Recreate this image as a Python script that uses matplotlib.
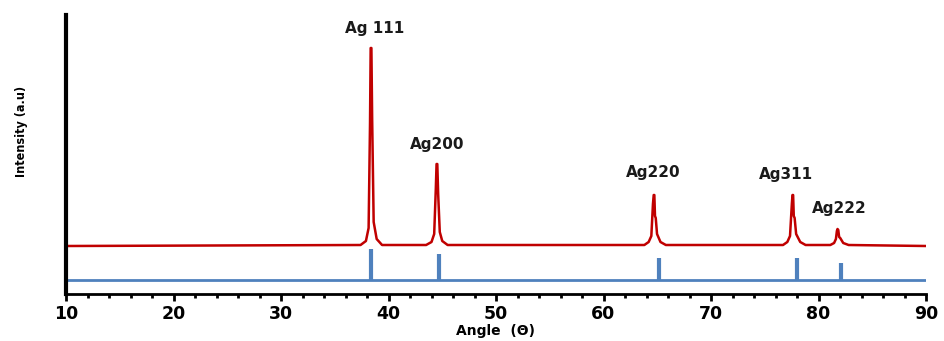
import matplotlib
matplotlib.use("Agg")
import matplotlib.pyplot as plt
from matplotlib.ticker import MultipleLocator

red_x = [10.0,
         37.4, 37.9, 38.15, 38.28, 38.34, 38.41, 38.48, 38.62, 38.9, 39.4,
         43.5, 44.0, 44.25, 44.4, 44.47, 44.54, 44.62, 44.77, 45.0, 45.5,
         63.8, 64.2, 64.45, 64.6, 64.67, 64.73, 64.79, 64.86, 64.98, 65.3, 65.8,
         76.7, 77.1, 77.35, 77.52, 77.58, 77.64, 77.7, 77.78, 77.92, 78.3, 78.8,
         81.1, 81.45, 81.62, 81.71, 81.77, 81.84, 81.92, 82.02, 82.3, 82.8,
         90.0]
red_y = [48,
         49, 53, 66, 170, 246, 246, 175, 72, 55, 49,
         49, 52, 60, 105, 130, 130, 100, 62, 53, 49,
         49, 52, 58, 90, 99, 99, 78, 76, 60, 52, 49,
         49, 52, 58, 90, 99, 99, 78, 76, 60, 52, 49,
         49, 51, 55, 63, 65, 64, 57, 56, 51, 49,
         48]

# Reference pattern (stick positions and heights)
ref_base = 14
ref_pos = [38.37, 44.73, 65.18, 78.03, 82.07]
ref_top = [45, 40, 36, 36, 31]

peak_labels = ["Ag 111", "Ag200", "Ag220", "Ag311", "Ag222"]
label_x = [38.7, 44.5, 64.6, 76.95, 81.9]
label_y = [266, 150, 121, 120, 85]

xticks = [10, 20, 30, 40, 50, 60, 70, 80, 90]

fig = plt.figure(figsize=(9.44, 3.41), dpi=100)
ax = fig.add_axes([66/944, 1-294/341, (926-66)/944, (294-15)/341])

red = "#C00000"
blue = "#4F81BD"

ax.plot(red_x, red_y, color=red, lw=1.8, solid_joinstyle="round")
ax.plot([10, 90.3], [ref_base, ref_base], color=blue, lw=2.0)
ax.vlines(ref_pos, ref_base, ref_top, color=blue, lw=3.0)

for t, x, y in zip(peak_labels, label_x, label_y):
    ax.text(x, y, t, ha="center", va="center", fontsize=11, fontweight="bold",
            family="DejaVu Sans", color="#1a1a1a")

ax.set_xlim(10, 90)
ax.set_ylim(0, 279)
ax.set_xticks(xticks)
ax.set_xticklabels([str(v) for v in xticks], fontsize=12.5, fontweight="bold",
                   family="DejaVu Sans")
ax.xaxis.set_minor_locator(MultipleLocator(2))
ax.tick_params(axis="x", which="major", direction="out", length=5, width=2, pad=3)
ax.tick_params(axis="x", which="minor", direction="out", length=3, width=2)
ax.set_yticks([])
for s in ["top", "right"]:
    ax.spines[s].set_visible(False)
ax.spines["bottom"].set_linewidth(2)
ax.spines["left"].set_linewidth(3)

fig.text(495/944, 1-331/341, "Angle  (\u0398)", ha="center", va="center",
         fontsize=10, fontweight="bold", family="DejaVu Sans")
fig.text(22/944, 1-131/341, "Intensity (a.u)", ha="center", va="center",
         rotation=90, fontsize=9, fontweight="bold", family="Liberation Sans Narrow",
         fontstretch="condensed")

fig.savefig("out.png", dpi=100)
